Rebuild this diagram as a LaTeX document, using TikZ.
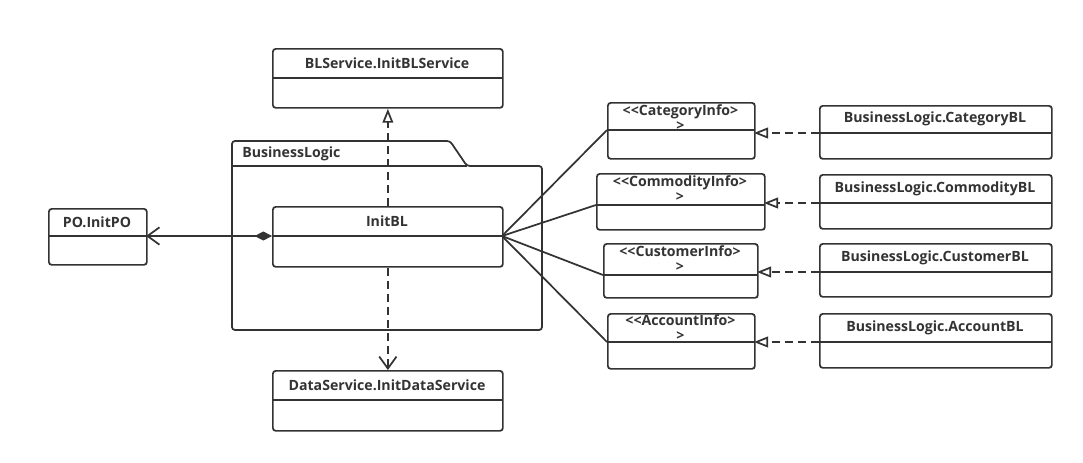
\documentclass[tikz,border=0pt]{standalone}
\usepackage{fontspec}
\setmainfont{Open Sans}
\usetikzlibrary{arrows.meta}
\definecolor{ink}{HTML}{333333}
\tikzset{
  px/.style={x=0.75pt,y=-0.75pt},
  boxline/.style={draw=ink,line width=1.3pt,rounded corners=2.2pt},
  divline/.style={draw=ink,line width=1.3pt},
  lbl/.style={text=ink,font=\bfseries\fontsize{10.6}{11.2}\selectfont,inner sep=0pt,align=center},
  conn/.style={draw=ink,line width=1.3pt},
  dashconn/.style={draw=ink,line width=1.3pt,dash pattern=on 6pt off 3.8pt},
  realize/.style={dashconn,-{Triangle[open,length=10.5pt,width=8pt,fill=white]}},
  dep/.style={dashconn,-{Straight Barb[length=9pt,width=13pt]}},
}
% \umlbox{name}{x1}{y1}{x2}{y2}{ydiv}{ytext}{text}
\newcommand\umlbox[8]{%
  \node[boxline,inner sep=0pt,anchor=north west,minimum width={(#4-#2)*0.75pt},minimum height={(#5-#3)*0.75pt}] (#1) at (#2,#3) {};
  \coordinate (#1-dl) at (#2,#6);
  \coordinate (#1-dr) at (#4,#6);
  \draw[divline] (#1-dl) -- (#1-dr);
  \node[lbl] (#1-t) at ({(#2+#4)/2},#7) {#8};
}
\begin{document}
\begin{tikzpicture}[px]
\useasboundingbox (0,0) rectangle (1083,462);
\fill[white] (0,0) rectangle (1083,462);
% package
\draw[boxline] (232,330) -- (232,141) -- (450,141) -- (467,166) -- (542,166) -- (542,330) -- cycle;
\draw[divline] (232,166) -- (467,166);
\node[lbl,anchor=west] (pkg) at (242,153.5) {BusinessLogic};
% classes
\umlbox{bls}{272}{48}{502}{107}{78}{63}{BLService.InitBLService}
\umlbox{ibl}{272}{206}{502}{266}{236}{221}{InitBL}
\umlbox{po}{48}{208}{146}{264}{236}{222}{PO.InitPO}
\umlbox{ds}{272}{370}{502}{430}{400}{385}{DataService.InitDataService}
\umlbox{cati}{607}{102}{754}{158}{130}{117.5}{<{}<CategoryInfo>\\>}
\umlbox{comi}{596}{173}{764}{229}{205}{188.5}{<{}<CommodityInfo>\\>}
\umlbox{cusi}{603}{243}{757}{297}{275}{258.5}{<{}<CustomerInfo>\\>}
\umlbox{acci}{607}{313}{754}{368}{342}{328}{<{}<AccountInfo>\\>}
\umlbox{catb}{819}{105}{1051}{158}{133}{119}{BusinessLogic.CategoryBL}
\umlbox{comb}{819}{174}{1051}{228}{203}{189}{BusinessLogic.CommodityBL}
\umlbox{cusb}{819}{243}{1051}{296}{272}{258}{BusinessLogic.CustomerBL}
\umlbox{accb}{819}{313}{1051}{367}{342}{328}{BusinessLogic.AccountBL}
% connectors
\draw[conn,{Diamond[length=13pt,width=6.8pt]}-{Straight Barb[length=9pt,width=13pt]}] (ibl-dl) -- (po-dr);
\draw[realize] (ibl.north) -- (bls.south);
\draw[dep] (ibl.south) -- (ds.north);
\draw[conn] (ibl-dr) -- (cati-dl);
\draw[conn] (ibl-dr) -- (comi-dl);
\draw[conn] (ibl-dr) -- (cusi-dl);
\draw[conn] (ibl-dr) -- (acci-dl);
\draw[realize] (catb-dl) -- (cati-dr |- catb-dl);
\draw[realize] (comb-dl) -- (comi-dr |- comb-dl);
\draw[realize] (cusb-dl) -- (cusi-dr |- cusb-dl);
\draw[realize] (accb-dl) -- (acci-dr |- accb-dl);
\end{tikzpicture}
\end{document}
